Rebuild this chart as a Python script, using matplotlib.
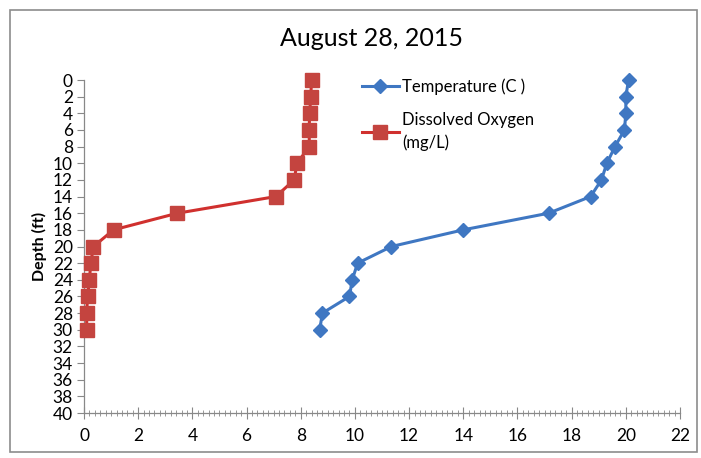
import matplotlib.pyplot as plt
from matplotlib.ticker import MultipleLocator
from matplotlib.patches import Rectangle

plt.rcParams['font.family'] = ['Lato', 'DejaVu Sans']

depth = [0, 2, 4, 6, 8, 10, 12, 14, 16, 18, 20, 22, 24, 26, 28, 30]
temperature = [20.1, 20.0, 20.0, 19.95, 19.6, 19.3, 19.1, 18.7, 17.15,
               14.0, 11.35, 10.1, 9.9, 9.8, 8.8, 8.7]
oxygen = [8.4, 8.37, 8.33, 8.31, 8.32, 7.86, 7.76, 7.08, 3.45,
          1.09, 0.35, 0.25, 0.2, 0.13, 0.1, 0.1]

fig = plt.figure(figsize=(7.01, 4.58), dpi=100)
ax = fig.add_axes([84 / 701, 45 / 458, 596 / 701, 333 / 458])

# outer chart border like the Excel chart area
fig.patches.append(Rectangle((10 / 701, 6 / 458), 687 / 701, 442 / 458,
                             transform=fig.transFigure, fill=False,
                             edgecolor='#8c8c8c', linewidth=1.2))

ax.plot(temperature, depth, color='#3F77C2', linewidth=2.2, marker='D',
        markersize=7, markerfacecolor='#3F77C2', markeredgecolor='#3F77C2',
        label='Temperature (C )', zorder=3, clip_on=False)
ax.plot(oxygen, depth, color='#D0302E', linewidth=2.2, marker='s',
        markersize=10.5, markerfacecolor='#C4443F', markeredgecolor='#C4443F',
        label='Dissolved Oxygen\n(mg/L)', zorder=3, clip_on=False)

ax.set_xlim(0, 22)
ax.set_ylim(40, 0)
ax.xaxis.set_major_locator(MultipleLocator(2))
ax.xaxis.set_minor_locator(MultipleLocator(0.2))
ax.yaxis.set_major_locator(MultipleLocator(2))

for side in ['top', 'right']:
    ax.spines[side].set_visible(False)
for side in ['left', 'bottom']:
    ax.spines[side].set_color('#888888')
    ax.spines[side].set_linewidth(0.9)

ax.tick_params(axis='x', which='major', direction='inout', length=9,
               width=0.8, color='#888888', labelsize=12.5, pad=6)
ax.tick_params(axis='x', which='minor', direction='inout', length=5,
               width=0.6, color='#888888')
ax.tick_params(axis='y', which='major', direction='out', length=5,
               width=0.8, color='#888888', labelsize=12.5, pad=3)

ax.set_ylabel('Depth (ft)', fontsize=11.5, fontweight='bold', labelpad=4)
fig.text(371 / 701, 0.915, 'August 28, 2015', ha='center',
         va='center', fontsize=18)

leg = ax.legend(loc='upper left', bbox_to_anchor=(0.455, 1.025), frameon=False,
                fontsize=12, handlelength=2.2, handletextpad=0.2,
                labelspacing=1.0, borderaxespad=0)
for t in leg.get_texts():
    t.set_linespacing(1.5)

fig.savefig('out.png', dpi=100)
